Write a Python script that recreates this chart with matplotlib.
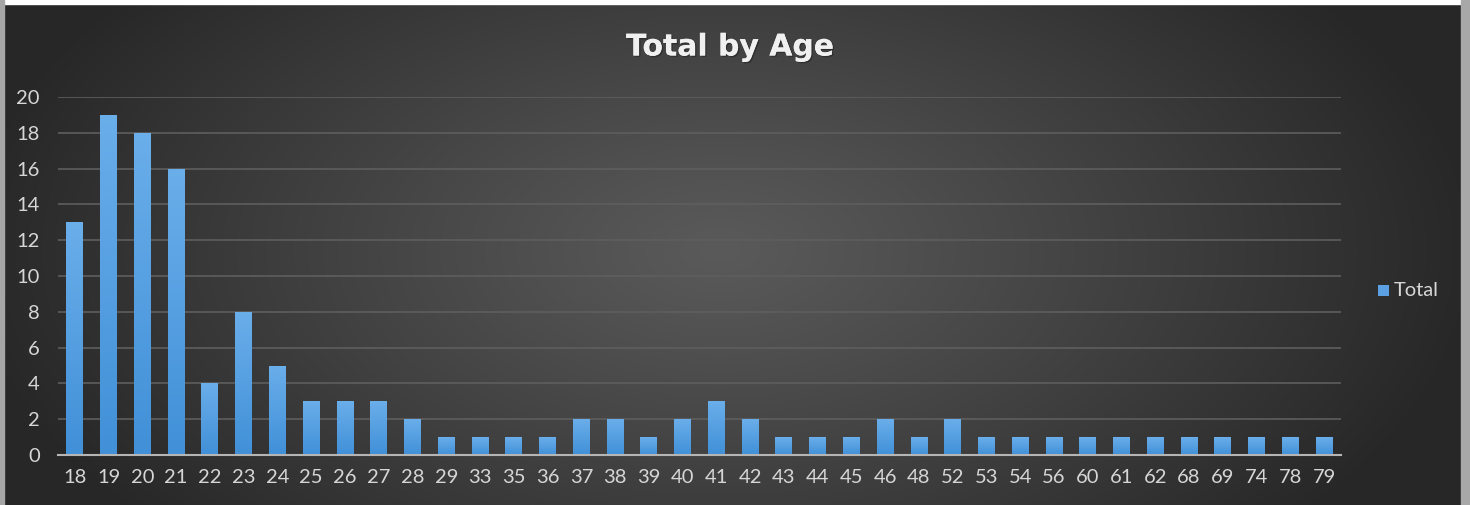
import numpy as np
import matplotlib
matplotlib.use("Agg")
import matplotlib.pyplot as plt
from matplotlib.patches import Rectangle
from matplotlib.colors import LinearSegmentedColormap
import matplotlib.patheffects as pe

ages = ["18", "19", "20", "21", "22", "23", "24", "25", "26", "27", "28", "29",
        "33", "35", "36", "37", "38", "39", "40", "41", "42", "43", "44", "45",
        "46", "48", "52", "53", "54", "56", "60", "61", "62", "68", "69", "74",
        "78", "79"]
totals = [13, 19, 18, 16, 4, 8, 5, 3, 3, 3, 2, 1,
          1, 1, 1, 2, 2, 1, 2, 3, 2, 1, 1, 1,
          2, 1, 2, 1, 1, 1, 1, 1, 1, 1, 1, 1,
          1, 1]
yticks = list(range(0, 21, 2))
title = "Total by Age"
series_name = "Total"

plt.rcParams['font.family'] = ['Lato', 'DejaVu Sans']

W, H = 1470, 505
fig = plt.figure(figsize=(W / 100, H / 100), dpi=100)

# background radial gradient
bg = fig.add_axes([0, 0, 1, 1], zorder=-10)
bg.set_axis_off()
yy, xx = np.mgrid[0:H, 0:W]
cx, cy = 720, 250
r = np.sqrt(((xx - cx) / 760.0) ** 2 + ((yy - cy) / 420.0) ** 2)
r = np.clip(r, 0, 1)
c_in, c_out = 0x5a / 255, 0x27 / 255
val = c_in + (c_out - c_in) * (r ** 1.1)
img = np.dstack([val, val, val])
bg.imshow(img, extent=[0, W, 0, H], origin='upper', aspect='auto')
bg.set_xlim(0, W)
bg.set_ylim(0, H)
# borders
bg.add_patch(Rectangle((0, H - 4), W, 4, color='white', zorder=5))
bg.add_patch(Rectangle((0, 0), 4, H, color='#a6a6a6', zorder=6))
bg.add_patch(Rectangle((1461, 0), W - 1461, H, color='#a8a8a8', zorder=6))

# main axes
x0, x1 = 58, 1341
ytop, ybot = 97, 455
ax = fig.add_axes([x0 / W, (H - ybot) / H, (x1 - x0) / W, (ybot - ytop) / H])
ax.set_facecolor('none')
pos = np.arange(len(ages))
bars = ax.bar(pos, totals, width=0.5, color='#5aa0e2', zorder=3)

# bar gradient
cmap = LinearSegmentedColormap.from_list('b', ['#4190d8', '#6aaeea'])
grad = np.linspace(0, 1, 100).reshape(-1, 1)
for b in bars:
    bx, bw, bh = b.get_x(), b.get_width(), b.get_height()
    im = ax.imshow(grad, cmap=cmap, origin='lower', aspect='auto',
                   extent=[bx, bx + bw, 0, bh], zorder=4)
    im.set_clip_path(b)

ax.set_xlim(-0.5, len(ages) - 0.5)
ax.set_ylim(0, 20)
ax.set_xticks(pos)
ax.set_xticklabels(ages)
ax.set_yticks(yticks)
ax.tick_params(axis='both', length=0, colors='#d6d6d6', labelsize=14.5)
ax.tick_params(axis='x', pad=10)
ax.tick_params(axis='y', pad=13)
ax.grid(axis='y', color='#5e5e5e', linewidth=1.2, zorder=0)
for s in ['top', 'right', 'left']:
    ax.spines[s].set_visible(False)
ax.spines['bottom'].set_color('#b5b5b5')
ax.spines['bottom'].set_linewidth(1.5)
ax.spines['bottom'].set_zorder(5)

fig.text(730 / W, 1 - 47 / H, title, ha='center', va='center', fontsize=21.5,
         fontweight='bold', color='#f0f0f0', family=['DejaVu Sans'],
         path_effects=[pe.withSimplePatchShadow(offset=(1, -1), shadow_rgbFace='#222222', alpha=0.6), pe.Normal()])

# legend
fig.patches.append(Rectangle((1378 / W, 1 - 296 / H), 11 / W, 11 / H,
                             transform=fig.transFigure, facecolor='#5aa0e2',
                             edgecolor='none', figure=fig))
fig.text(1394 / W, 1 - 290 / H, series_name, ha='left', va='center',
         fontsize=14.5, color='#d6d6d6')

fig.savefig('out.png', dpi=100)
